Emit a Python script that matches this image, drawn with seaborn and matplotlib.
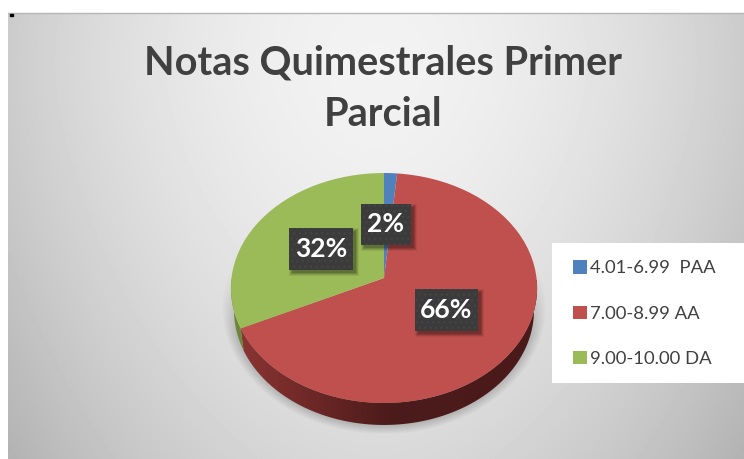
import numpy as np
import seaborn as sns
import matplotlib
matplotlib.use("Agg")
import matplotlib.pyplot as plt
from matplotlib.patches import Polygon, Rectangle
from matplotlib.transforms import Transform

# values
categories = ["4.01-6.99  PAA", "7.00-8.99 AA", "9.00-10.00 DA"]
values = [1.5, 66.5, 32.0]
title_lines = ["Notas Quimestrales Primer", "Parcial"]

colors = sns.color_palette(["#4f81bd", "#c0504d", "#9bbb59"])
label_boxes = [(361, 204, 50, 41), (415, 289, 63, 42), (289, 228, 64, 42)]

sns.set_theme(style="white")
plt.rcParams["font.family"] = ["Lato", "DejaVu Sans"]

CX, CY, RX, S, K, DEPTH = 384, 278, 152.5, 114.1, 0.0869, 22


class Tilt(Transform):
    """Unit pie circle -> tilted disc in pixel coordinates"""
    input_dims = 2
    output_dims = 2

    def transform_non_affine(self, values):
        x, y = np.asarray(values).T
        w = 1 + K * y
        return np.column_stack((CX + RX * x / w, CY - S * y / w))


tilt = Tilt()
fig = plt.figure(figsize=(7.44, 4.59), dpi=100)
ax = fig.add_axes([0, 0, 1, 1])

# background
gx, gy = np.meshgrid(np.linspace(8, 744, 368), np.linspace(13, 459, 223))
bg = 0.95 - 0.15 * (np.abs(gx - 376) / 368) ** 1.8 - 0.10 * (np.abs(gy - 60) / 400) ** 1.6
ax.imshow(bg, extent=(8, 744, 459, 13), cmap="gray", vmin=0, vmax=1, zorder=0, aspect="auto")
ax.plot([8, 744], [13, 13], color="#b5b5b5", lw=1, zorder=1)
ax.add_patch(Rectangle((10, 14), 3, 1.5, color="black", zorder=1))

# soft shadow under the disc
sx, sy = np.meshgrid(np.linspace(210, 560, 350), np.linspace(265, 434, 170))
dist = np.hypot((sx - CX) / 163, (sy - 305) / 130)
shadow = np.zeros(dist.shape + (4,))
shadow[..., 3] = 0.33 * np.clip((1 - dist) / 0.12, 0, 1) * np.clip((sy - 265) / 70, 0, 1)
ax.imshow(shadow, extent=(210, 560, 434, 265), zorder=2, aspect="auto")

# side wall
fractions = np.array(values) / sum(values)
red_end = 360 * (fractions[0] + fractions[1])


def wall(start, stop):
    a = np.radians(np.linspace(start, stop, 120))
    top = tilt.transform_non_affine(np.column_stack((np.sin(a), np.cos(a))))
    low = top + [0, DEPTH]
    low[:, 0] = CX + (low[:, 0] - CX) * 0.98
    return np.vstack((top, low[::-1]))


side_cmap = sns.blend_palette(["#8a3432", "#4c1b1a", "#4a1a1a"], as_cmap=True)
side = ax.imshow(np.linspace(0, 1, 300)[None, :], extent=(240, 540, 440, 280), cmap=side_cmap,
                 zorder=3, aspect="auto")
side.set_clip_path(Polygon(wall(90, red_end), transform=ax.transData))
ax.add_patch(Polygon(wall(red_end, 270), color="#6d8639", lw=0, zorder=3))

# top face
wedges, _ = ax.pie(values, colors=colors, startangle=90, counterclock=False, normalize=True,
                   wedgeprops={"linewidth": 0, "zorder": 4})
for w in wedges:
    w.set_transform(tilt + ax.transData)
    w.set_clip_on(False)

# dark data labels
for (x, y, w, h), v in zip(label_boxes, values):
    for grow, alpha in ((4, 0.07), (3, 0.1), (2, 0.12), (1, 0.16)):
        ax.add_patch(Rectangle((x + 4 - grow, y + 4 - grow), w + 2 * grow - 2, h + 2 * grow - 2,
                               color="black", alpha=alpha, lw=0, zorder=5))
    ax.add_patch(Rectangle((x, y), w, h, facecolor="#3b3b3b", edgecolor="#444444", hatch="...", lw=0, zorder=6))
    ax.text(x + w / 2, y + h / 2, f"{v:.0f}%", color="white", fontsize=19, fontweight="bold",
            ha="center", va="center", zorder=7)

# title
for i, line in enumerate(title_lines):
    ax.text(383, 63 + 52 * i, line, color="#404040", fontsize=28.5, fontweight="bold",
            ha="center", va="center", zorder=7)

# legend
ax.add_patch(Rectangle((552, 243), 192, 140, color="white", lw=0, zorder=7))
handles = [Rectangle((0, 0), 1, 1, color=c, lw=0) for c in colors]
leg = ax.legend(handles, categories, loc="upper left", bbox_to_anchor=(566, 253),
                bbox_transform=ax.transData, frameon=False, fontsize=13.3, labelcolor="#404040",
                handlelength=0.72, handleheight=0.72, handletextpad=0.2, labelspacing=1.58,
                borderpad=0.4, borderaxespad=0)
leg.set_zorder(8)

ax.set_xlim(0, 744)
ax.set_ylim(459, 0)
ax.set_aspect("auto")
ax.axis("off")

fig.savefig("out.png", dpi=100, facecolor="white")
plt.close(fig)
